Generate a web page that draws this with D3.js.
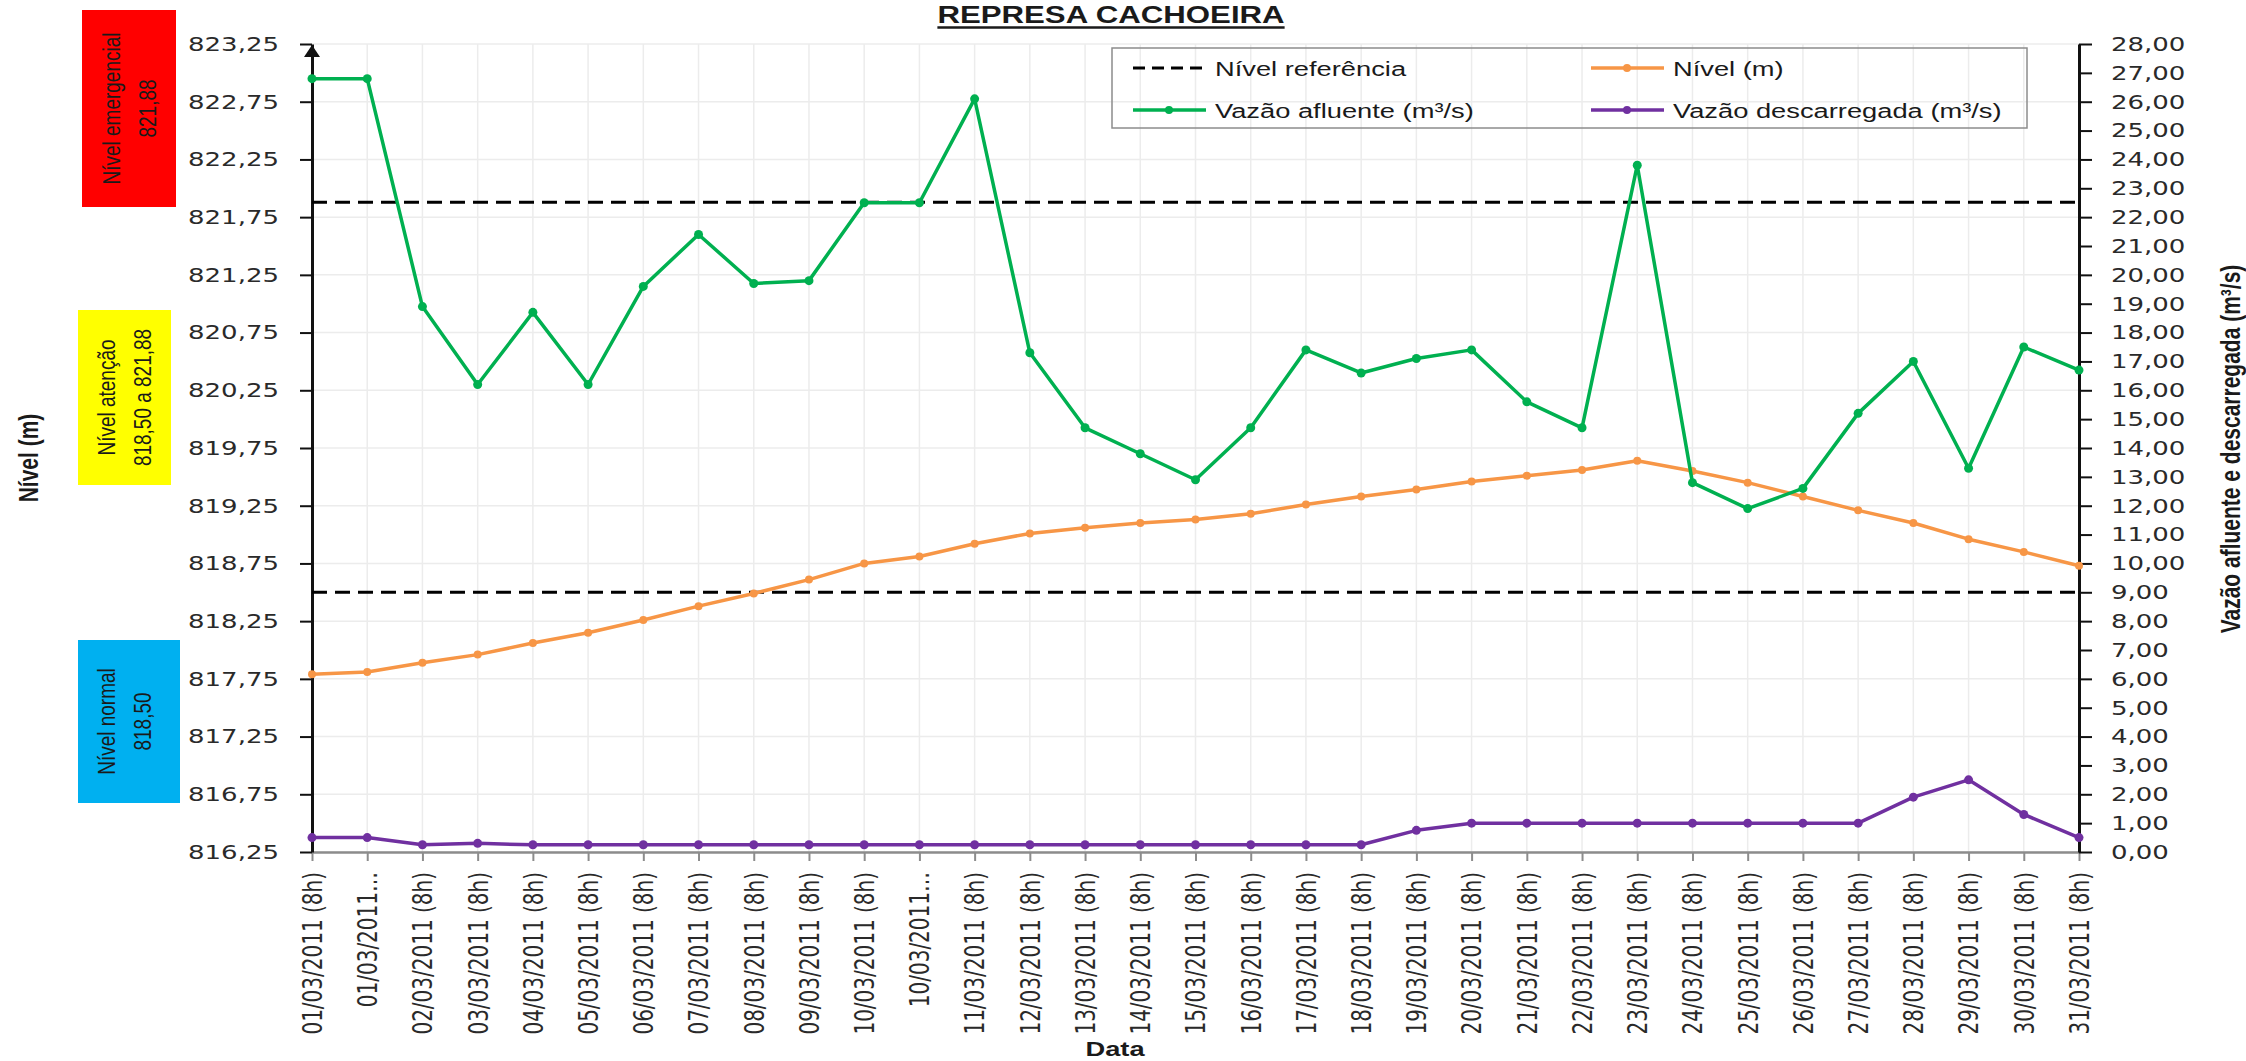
<!DOCTYPE html>
<html>
  <head>
    <meta charset="utf-8">
    <title>Represa Cachoeira</title>
    <script src="https://d3js.org/d3.v7.min.js"></script>
    <style>
      body { margin: 0; background: #fff; }
      svg { display: block; }
      .axis .tick text {
        font-family: "DejaVu Sans", Verdana, sans-serif;
        font-size: 20px;
        fill: #2a2a2a;
      }
      .lbl { font-family: "Liberation Sans", Arial, sans-serif; fill: #1a1a1a; }
      .grid line { stroke: #ececec; stroke-width: 1.5; }
    </style>
  </head>
  <body>
    <svg width="2246" height="1061"></svg>
    <script>
      const categories = [
        "01/03/2011 (8h)", "01/03/2011…", "02/03/2011 (8h)", "03/03/2011 (8h)",
        "04/03/2011 (8h)", "05/03/2011 (8h)", "06/03/2011 (8h)", "07/03/2011 (8h)",
        "08/03/2011 (8h)", "09/03/2011 (8h)", "10/03/2011 (8h)", "10/03/2011…",
        "11/03/2011 (8h)", "12/03/2011 (8h)", "13/03/2011 (8h)", "14/03/2011 (8h)",
        "15/03/2011 (8h)", "16/03/2011 (8h)", "17/03/2011 (8h)", "18/03/2011 (8h)",
        "19/03/2011 (8h)", "20/03/2011 (8h)", "21/03/2011 (8h)", "22/03/2011 (8h)",
        "23/03/2011 (8h)", "24/03/2011 (8h)", "25/03/2011 (8h)", "26/03/2011 (8h)",
        "27/03/2011 (8h)", "28/03/2011 (8h)", "29/03/2011 (8h)", "30/03/2011 (8h)",
        "31/03/2011 (8h)"
      ];
      // Nível (m) - eixo esquerdo
      const nivel = [
        817.79, 817.81, 817.89, 817.96, 818.06, 818.15, 818.26, 818.38,
        818.49, 818.61, 818.75, 818.81, 818.92, 819.01, 819.06, 819.10,
        819.13, 819.18, 819.26, 819.33, 819.39, 819.46, 819.51, 819.56,
        819.64, 819.55, 819.45, 819.33, 819.21, 819.10, 818.96, 818.85,
        818.73
      ];
      // vazões (m³/s) - eixo direito
      const vazaoAfluente = [
        26.8, 26.8, 18.9, 16.2, 18.7, 16.2, 19.6, 21.4,
        19.7, 19.8, 22.5, 22.5, 26.1, 17.3, 14.7, 13.8,
        12.9, 14.7, 17.4, 16.6, 17.1, 17.4, 15.6, 14.7,
        23.8, 12.8, 11.9, 12.6, 15.2, 17.0, 13.3, 17.5,
        16.7
      ];
      const vazaoDescarregada = [
        0.5, 0.5, 0.25, 0.3, 0.25, 0.25, 0.25, 0.25,
        0.25, 0.25, 0.25, 0.25, 0.25, 0.25, 0.25, 0.25,
        0.25, 0.25, 0.25, 0.25, 0.75, 1.0, 1.0, 1.0,
        1.0, 1.0, 1.0, 1.0, 1.0, 1.9, 2.5, 1.3,
        0.5
      ];
      const nivelReferencia = [821.88, 818.50];
      const leftTicks = d3.range(0, 15).map(i => 816.25 + i * 0.5);
      const rightTicks = d3.range(0, 29);
      const zoneNames = ["Nível emergencial", "Nível atenção", "Nível normal"];
      const zoneValues = ["821,88", "818,50 a 821,88", "818,50"];
      const legendNames = ["Nível referência", "Nível (m)", "Vazão afluente (m³/s)", "Vazão descarregada (m³/s)"];

      // o gráfico original está esticado na horizontal
      const SX = 1.3;
      const fmt = d => d.toFixed(2).replace(".", ",");

      const svg = d3.select("svg");
      const plotLeft = 312, plotRight = 2079, plotTop = 44, plotBottom = 852;

      const x = d3.scalePoint().domain(categories).range([plotLeft, plotRight]);
      const yLeft = d3.scaleLinear().domain([816.25, 823.25]).range([plotBottom, plotTop]);
      const yRight = d3.scaleLinear().domain([0, 28]).range([plotBottom, plotTop]);

      // grade
      const grid = svg.append("g").attr("class", "grid");
      grid.selectAll(".h").data(leftTicks).enter().append("line")
          .attr("x1", plotLeft).attr("x2", plotRight)
          .attr("y1", d => yLeft(d)).attr("y2", d => yLeft(d));
      grid.selectAll(".v").data(categories).enter().append("line")
          .attr("x1", d => x(d)).attr("x2", d => x(d))
          .attr("y1", plotTop).attr("y2", plotBottom);

      // eixos
      const xAxisG = svg.append("g").attr("class", "axis")
          .attr("transform", `translate(0,${plotBottom})`)
          .call(d3.axisBottom(x).tickSize(9).tickSizeOuter(0));
      xAxisG.select(".domain").attr("stroke", "#8c8c8c").attr("stroke-width", 2.5);
      xAxisG.selectAll(".tick line").attr("stroke", "#8c8c8c").attr("stroke-width", 2);
      xAxisG.selectAll(".tick text")
          .attr("x", 0).attr("y", 0).attr("dy", "0.36em")
          .attr("text-anchor", "end")
          .attr("transform", `translate(0,20) scale(${SX},1) rotate(-90)`);

      const yLeftG = svg.append("g").attr("class", "axis")
          .attr("transform", `translate(${plotLeft},0)`)
          .call(d3.axisLeft(yLeft).tickValues(leftTicks).tickFormat(fmt)
            .tickSize(12).tickPadding(21).tickSizeOuter(0));
      yLeftG.select(".domain").attr("stroke", "#111").attr("stroke-width", 3);
      yLeftG.selectAll(".tick line").attr("stroke", "#111").attr("stroke-width", 2);
      yLeftG.selectAll(".tick text")
          .attr("x", -33 / SX)
          .attr("transform", `scale(${SX},1)`);
      svg.append("path")
          .attr("d", `M${plotLeft},${plotTop + 1} L${plotLeft - 8},${plotTop + 13} L${plotLeft + 8},${plotTop + 13} Z`)
          .attr("fill", "#111");

      const yRightG = svg.append("g").attr("class", "axis")
          .attr("transform", `translate(${plotRight},0)`)
          .call(d3.axisRight(yRight).tickValues(rightTicks).tickFormat(fmt)
            .tickSize(13).tickPadding(19).tickSizeOuter(0));
      yRightG.select(".domain").attr("stroke", "#111").attr("stroke-width", 3);
      yRightG.selectAll(".tick line").attr("stroke", "#111").attr("stroke-width", 2);
      yRightG.selectAll(".tick text")
          .attr("x", 32 / SX)
          .attr("transform", `scale(${SX},1)`);

      // níveis de referência
      svg.selectAll(".ref").data(nivelReferencia).enter().append("line")
          .attr("x1", plotLeft).attr("x2", plotRight)
          .attr("y1", d => yLeft(d)).attr("y2", d => yLeft(d))
          .attr("stroke", "#000").attr("stroke-width", 3)
          .attr("stroke-dasharray", "15,8");

      // séries
      const series = [
        {values: nivel, y: yLeft, color: "#f79646", r: 4},
        {values: vazaoAfluente, y: yRight, color: "#00b050", r: 4.5},
        {values: vazaoDescarregada, y: yRight, color: "#7030a0", r: 4.5}
      ];
      series.forEach(s => {
        const line = d3.line().x((d, i) => x(categories[i])).y(d => s.y(d));
        svg.append("path").datum(s.values)
            .attr("d", line)
            .attr("fill", "none")
            .attr("stroke", s.color)
            .attr("stroke-width", 3.5)
            .attr("stroke-linejoin", "round");
        svg.append("g").selectAll("circle").data(s.values).enter().append("circle")
            .attr("cx", (d, i) => x(categories[i]))
            .attr("cy", d => s.y(d))
            .attr("r", s.r)
            .attr("fill", s.color);
      });

      // caixas de níveis à esquerda
      const zoneBoxes = [
        {x: 82, y: 10, w: 94, h: 197, color: "#ff0000", cx: 129},
        {x: 78, y: 310, w: 93, h: 175, color: "#ffff00", cx: 124},
        {x: 78, y: 640, w: 102, h: 163, color: "#00b0f0", cx: 124}
      ];
      zoneBoxes.forEach((b, i) => {
        svg.append("rect")
            .attr("x", b.x).attr("y", b.y).attr("width", b.w).attr("height", b.h)
            .attr("fill", b.color);
        const cy = b.y + b.h / 2;
        [zoneNames[i], zoneValues[i]].forEach((t, k) => {
          svg.append("text").attr("class", "lbl")
              .attr("font-size", 19)
              .attr("text-anchor", "middle")
              .attr("dy", "0.36em")
              .attr("transform", `translate(${b.cx + (k === 0 ? -18 : 18)},${cy}) scale(${SX},1) rotate(-90)`)
              .text(t);
        });
      });

      // títulos
      const title = svg.append("text").attr("class", "lbl")
          .attr("font-size", 24).attr("font-weight", "bold")
          .attr("text-anchor", "middle")
          .attr("transform", `translate(1111,23) scale(${SX},1)`)
          .text("REPRESA CACHOEIRA");
      const tb = title.node().getBBox();
      svg.append("line")
          .attr("x1", 1111 - tb.width * SX / 2).attr("x2", 1111 + tb.width * SX / 2)
          .attr("y1", 27.5).attr("y2", 27.5)
          .attr("stroke", "#1a1a1a").attr("stroke-width", 2.5);

      svg.append("text").attr("class", "lbl")
          .attr("font-size", 21).attr("font-weight", "bold")
          .attr("text-anchor", "middle").attr("dy", "0.36em")
          .attr("transform", `translate(28,458) scale(${SX},1) rotate(-90)`)
          .text("Nível (m)");

      svg.append("text").attr("class", "lbl")
          .attr("font-size", 21).attr("font-weight", "bold")
          .attr("text-anchor", "middle").attr("dy", "0.36em")
          .attr("transform", `translate(2230,449) scale(${SX},1) rotate(-90)`)
          .text("Vazão afluente e descarregada (m³/s)");

      svg.append("text").attr("class", "lbl")
          .attr("font-size", 21).attr("font-weight", "bold")
          .attr("text-anchor", "middle")
          .attr("transform", `translate(1115,1056) scale(${SX},1)`)
          .text("Data");

      // legenda
      svg.append("rect")
          .attr("x", 1112).attr("y", 48).attr("width", 915).attr("height", 80)
          .attr("fill", "none").attr("stroke", "#8c8c8c").attr("stroke-width", 1.5);
      const legendStyle = [
        {color: "#000", dash: "12,7", col: 0, row: 0},
        {color: "#f79646", dash: null, col: 1, row: 0},
        {color: "#00b050", dash: null, col: 0, row: 1},
        {color: "#7030a0", dash: null, col: 1, row: 1}
      ];
      legendNames.forEach((name, i) => {
        const s = legendStyle[i];
        const lx = s.col === 0 ? 1133 : 1591;
        const ly = s.row === 0 ? 68 : 110;
        svg.append("line")
            .attr("x1", lx).attr("x2", lx + 73).attr("y1", ly).attr("y2", ly)
            .attr("stroke", s.color).attr("stroke-width", s.dash ? 3 : 3.5)
            .attr("stroke-dasharray", s.dash);
        if (!s.dash) {
          svg.append("circle").attr("cx", lx + 36).attr("cy", ly).attr("r", 4)
              .attr("fill", s.color);
        }
        svg.append("text").attr("class", "lbl")
            .attr("font-size", 21)
            .attr("dy", "0.36em")
            .attr("transform", `translate(${lx + 82},${ly}) scale(${SX},1)`)
            .text(name);
      });
    </script>
  </body>
</html>
